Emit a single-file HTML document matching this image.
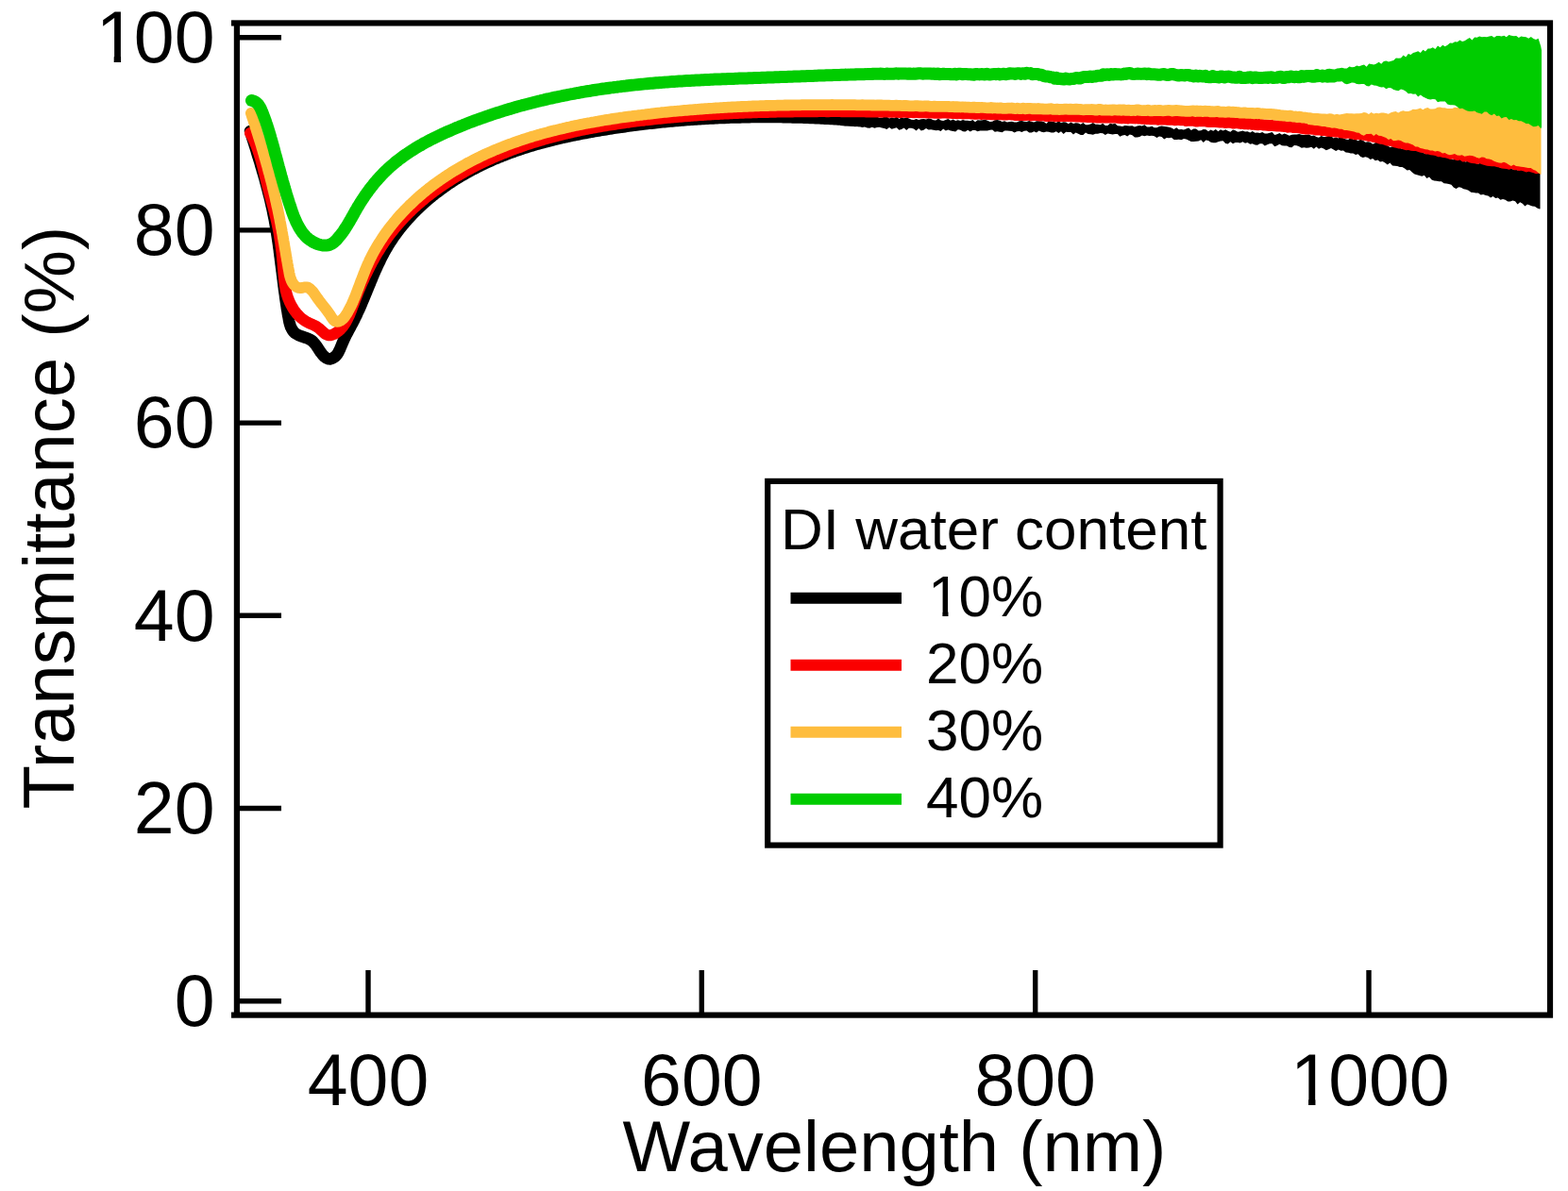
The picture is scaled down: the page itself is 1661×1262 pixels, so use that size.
<!DOCTYPE html>
<html><head><meta charset="utf-8"><title>Transmittance vs Wavelength</title>
<style>
html,body{margin:0;padding:0;background:#fff;}
body{width:1661px;height:1262px;overflow:hidden;}
svg{display:block;}
text{font-family:'Liberation Sans', Arial, Helvetica, sans-serif;fill:#000;}
</style></head>
<body>
<svg width="1661" height="1262" viewBox="0 0 1661 1262">
<rect x="0" y="0" width="1661" height="1262" fill="#fff"/>
<g id="ticks" stroke="#000" stroke-width="5.4" stroke-linecap="butt">
<line x1="251" y1="1060.7" x2="298" y2="1060.7"/>
<line x1="251" y1="856.5" x2="298" y2="856.5"/>
<line x1="251" y1="652.3" x2="298" y2="652.3"/>
<line x1="251" y1="448.1" x2="298" y2="448.1"/>
<line x1="251" y1="243.9" x2="298" y2="243.9"/>
<line x1="251" y1="39.7" x2="298" y2="39.7"/>
<line x1="390.0" y1="1075" x2="390.0" y2="1028"/>
<line x1="743.3" y1="1075" x2="743.3" y2="1028"/>
<line x1="1096.7" y1="1075" x2="1096.7" y2="1028"/>
<line x1="1450.0" y1="1075" x2="1450.0" y2="1028"/>
</g>
<g id="curves">
<path d="M265.0 138.9 L265.6 140.8 L266.2 142.7 L266.8 144.6 L267.4 146.5 L268.0 148.4 L268.6 150.2 L269.2 152.1 L269.8 154.0 L270.4 155.9 L271.0 157.8 L271.6 159.8 L272.1 161.7 L272.7 163.6 L273.3 165.5 L273.9 167.4 L274.5 169.3 L275.1 171.2 L275.7 173.2 L276.2 175.1 L276.8 177.0 L277.4 178.9 L277.9 180.9 L278.5 182.8 L279.1 184.7 L279.6 186.7 L280.2 188.6 L280.7 190.6 L281.2 192.5 L281.8 194.4 L282.3 196.4 L282.8 198.3 L283.3 200.3 L283.8 202.2 L284.3 204.2 L284.8 206.1 L285.3 208.1 L285.8 210.0 L286.3 212.0 L286.7 213.9 L287.2 215.9 L287.6 217.9 L288.1 219.8 L288.5 221.8 L288.9 223.7 L289.3 225.7 L289.7 227.7 L290.1 229.6 L290.5 231.6 L290.9 233.6 L291.2 235.5 L291.6 237.5 L291.9 239.5 L292.3 241.4 L292.6 243.4 L292.9 245.4 L293.2 247.3 L293.5 249.3 L293.8 251.3 L294.1 253.2 L294.4 255.2 L294.7 257.2 L295.0 259.2 L295.2 261.1 L295.5 263.1 L295.8 265.1 L296.0 267.1 L296.3 269.1 L296.5 271.0 L296.8 273.0 L297.0 275.0 L297.3 277.0 L297.5 279.0 L297.8 281.0 L298.0 283.0 L298.3 284.9 L298.5 286.9 L298.8 288.9 L299.0 290.9 L299.3 292.9 L299.5 294.9 L299.8 296.9 L300.0 298.9 L300.3 300.9 L300.5 302.9 L300.8 304.9 L301.0 306.9 L301.3 308.9 L301.6 310.9 L301.9 312.9 L302.1 314.9 L302.4 316.9 L302.7 318.9 L303.0 320.9 L303.3 322.9 L303.6 324.9 L303.9 327.0 L304.3 329.0 L304.6 331.0 L304.9 333.0 L305.3 335.0 L305.7 337.0 L306.0 339.1 L306.4 341.1 L306.9 343.0 L307.5 344.9 L308.1 346.7 L309.0 348.4 L309.9 350.0 L311.1 351.5 L312.4 352.8 L314.0 353.9 L315.8 354.9 L317.7 355.7 L319.6 356.5 L321.6 357.1 L323.5 357.8 L325.4 358.4 L327.2 359.2 L328.9 360.1 L330.5 361.1 L331.9 362.4 L333.3 363.9 L334.5 365.5 L335.7 367.2 L336.9 369.0 L338.0 370.8 L339.2 372.6 L340.5 374.3 L341.8 376.0 L343.2 377.5 L344.7 378.7 L346.3 379.7 L348.0 380.3 L349.7 380.4 L351.4 380.0 L353.0 379.2 L354.6 378.1 L356.0 376.8 L357.2 375.3 L358.3 373.6 L359.2 371.8 L360.1 370.0 L360.9 368.0 L361.7 366.1 L362.5 364.1 L363.3 362.2 L364.2 360.3 L365.0 358.5 L365.9 356.6 L366.8 354.8 L367.8 353.0 L368.7 351.3 L369.6 349.5 L370.6 347.7 L371.5 346.0 L372.4 344.2 L373.4 342.5 L374.3 340.7 L375.2 339.0 L376.0 337.2 L376.9 335.4 L377.8 333.6 L378.6 331.8 L379.4 330.0 L380.3 328.2 L381.1 326.4 L381.9 324.5 L382.7 322.7 L383.4 320.9 L384.2 319.0 L385.0 317.2 L385.8 315.3 L386.5 313.5 L387.3 311.6 L388.1 309.8 L388.8 307.9 L389.6 306.0 L390.3 304.2 L391.1 302.3 L391.9 300.5 L392.6 298.6 L393.4 296.7 L394.2 294.9 L394.9 293.0 L395.7 291.2 L396.5 289.3 L397.3 287.5 L398.1 285.7 L399.0 283.8 L399.8 282.0 L400.6 280.2 L401.5 278.4 L402.4 276.6 L403.2 274.8 L404.1 273.0 L405.0 271.2 L406.0 269.4 L406.9 267.7 L407.9 265.9 L408.9 264.2 L409.9 262.5 L410.9 260.7 L411.9 259.0 L413.0 257.3 L414.1 255.7 L415.2 254.0 L416.3 252.3 L417.4 250.7 L418.6 249.1 L419.8 247.4 L421.0 245.8 L422.2 244.2 L423.4 242.6 L424.6 241.1 L425.9 239.5 L427.2 238.0 L428.5 236.4 L429.8 234.9 L431.1 233.4 L432.4 231.9 L433.8 230.4 L435.2 228.9 L436.5 227.5 L437.9 226.0 L439.3 224.6 L440.8 223.2 L442.2 221.8 L443.7 220.4 L445.1 219.0 L446.6 217.6 L448.1 216.3 L449.6 214.9 L451.1 213.6 L452.6 212.3 L454.2 210.9 L455.7 209.7 L457.3 208.4 L458.8 207.1 L460.4 205.8 L462.0 204.6 L463.6 203.4 L465.2 202.2 L466.8 201.0 L468.4 199.8 L470.1 198.6 L471.7 197.4 L473.4 196.3 L475.0 195.1 L476.7 194.0 L478.4 192.9 L480.0 191.8 L481.7 190.7 L483.4 189.7 L485.1 188.6 L486.8 187.6 L488.6 186.5 L490.3 185.5 L492.0 184.5 L493.7 183.5 L495.5 182.6 L497.2 181.6 L499.0 180.7 L500.7 179.7 L502.5 178.8 L504.3 177.9 L506.0 177.0 L507.8 176.1 L509.6 175.2 L511.4 174.3 L513.2 173.5 L515.0 172.6 L516.8 171.8 L518.6 171.0 L520.4 170.2 L522.2 169.4 L524.1 168.6 L525.9 167.8 L527.7 167.1 L529.6 166.3 L531.4 165.6 L533.3 164.8 L535.1 164.1 L537.0 163.4 L538.9 162.7 L540.7 162.0 L542.6 161.3 L544.5 160.7 L546.4 160.0 L548.2 159.3 L550.1 158.7 L552.0 158.1 L553.9 157.4 L555.8 156.8 L557.7 156.2 L559.6 155.6 L561.5 155.0 L563.5 154.5 L565.4 153.9 L567.3 153.3 L569.2 152.8 L571.1 152.2 L573.1 151.7 L575.0 151.2 L576.9 150.6 L578.9 150.1 L580.8 149.6 L582.8 149.1 L584.7 148.6 L586.7 148.1 L588.6 147.7 L590.6 147.2 L592.5 146.7 L594.5 146.3 L596.5 145.8 L598.4 145.4 L600.4 145.0 L602.3 144.5 L604.3 144.1 L606.3 143.7 L608.3 143.3 L610.2 142.9 L612.2 142.5 L614.2 142.1 L616.2 141.7 L618.1 141.3 L620.1 141.0 L622.1 140.6 L624.1 140.2 L626.1 139.9 L628.1 139.5 L630.0 139.2 L632.0 138.8 L634.0 138.5 L636.0 138.1 L638.0 137.8 L640.0 137.5 L642.0 137.2 L644.0 136.9 L645.9 136.5 L647.9 136.2 L649.9 135.9 L651.9 135.6 L653.9 135.3 L655.9 135.0 L657.9 134.8 L659.9 134.5 L661.9 134.2 L663.9 133.9 L665.9 133.6 L667.9 133.4 L669.8 133.1 L671.8 132.9 L673.8 132.6 L675.8 132.3 L677.8 132.1 L679.8 131.8 L681.8 131.6 L683.8 131.4 L685.8 131.1 L687.8 130.9 L689.8 130.7 L691.8 130.5 L693.8 130.2 L695.8 130.0 L697.8 129.8 L699.8 129.6 L701.8 129.4 L703.7 129.2 L705.7 129.0 L707.7 128.8 L709.7 128.6 L711.7 128.5 L713.7 128.3 L715.7 128.1 L717.7 127.9 L719.7 127.8 L721.7 127.6 L723.7 127.4 L725.7 127.3 L727.7 127.1 L729.7 127.0 L731.7 126.8 L733.7 126.7 L735.7 126.6 L737.7 126.4 L739.7 126.3 L741.7 126.2 L743.7 126.1 L745.7 125.9 L747.7 125.8 L749.7 125.7 L751.7 125.6 L753.7 125.5 L755.7 125.4 L757.7 125.3 L759.7 125.2 L761.7 125.1 L763.7 125.0 L765.7 124.9 L767.7 124.9 L769.7 124.8 L771.7 124.7 L773.7 124.6 L775.7 124.6 L777.7 124.5 L779.7 124.5 L781.7 124.4 L783.7 124.4 L785.7 124.3 L787.7 124.3 L789.7 124.2 L791.7 124.2 L793.7 124.2 L795.7 124.1 L797.7 124.1 L799.7 124.1 L801.7 124.1 L803.7 124.0 L805.7 124.0 L807.7 124.0 L809.7 124.0 L811.8 124.0 L813.8 124.0 L815.8 124.0 L817.8 124.0 L819.8 124.0 L821.8 124.1 L823.8 124.1 L825.8 124.1 L827.8 124.1 L829.8 124.2 L831.8 124.2 L833.8 124.2 L835.8 124.3 L837.8 124.3 L839.8 124.4 L841.8 124.4 L843.8 124.5 L845.8 124.5 L847.8 124.6 L849.8 124.6 L851.8 124.7 L853.9 124.8 L855.9 124.8 L857.9 124.9 L859.9 125.0 L861.9 125.1 L863.9 125.2 L865.9 125.3 L867.9 125.3 L869.9 125.4 L871.9 125.6 L873.9 125.7 L875.9 125.8 L877.9 125.8 L879.9 126.0 L881.9 126.1 L883.9 126.2 L886.0 126.3 L888.0 126.4 L890.0 126.6 L892.0 126.7 L894.0 126.8 L896.0 127.0 L898.0 127.1 L900.0 127.3 L902.0 127.5 L904.0 127.5 L906.0 127.7 L908.0 127.7 L910.0 128.0" fill="none" stroke="#000000" stroke-width="12.5" stroke-linejoin="round" stroke-linecap="round"/>
<path d="M890.0 122.0 L892.6 122.1 L895.2 122.2 L897.8 122.3 L900.4 122.4 L903.0 122.5 L905.6 122.5 L908.2 122.3 L910.8 122.5 L913.4 122.5 L916.0 122.8 L918.6 123.7 L921.2 122.8 L923.8 123.1 L926.4 123.2 L929.0 123.7 L931.6 124.7 L934.2 124.7 L936.8 123.8 L939.4 123.6 L942.0 125.4 L944.6 124.5 L947.2 125.2 L949.8 123.6 L952.4 126.1 L955.0 124.6 L957.6 125.3 L960.2 124.6 L962.8 125.4 L965.4 126.8 L968.0 127.0 L970.6 126.0 L973.2 127.0 L975.8 126.2 L978.4 126.0 L981.0 126.6 L983.6 125.6 L986.2 126.1 L988.8 127.3 L991.4 127.6 L994.0 125.5 L996.6 127.6 L999.2 128.0 L1001.8 127.0 L1004.4 125.9 L1007.0 127.8 L1009.6 126.6 L1012.2 127.9 L1014.8 127.2 L1017.4 128.0 L1020.0 127.0 L1022.6 127.7 L1025.2 127.8 L1027.8 128.2 L1030.4 127.0 L1033.0 129.3 L1035.6 127.3 L1038.2 127.4 L1040.8 127.3 L1043.4 126.7 L1046.0 127.8 L1048.6 128.9 L1051.2 128.8 L1053.8 127.3 L1056.4 127.1 L1059.0 127.7 L1061.6 129.1 L1064.2 128.3 L1066.8 129.6 L1069.4 128.9 L1072.0 128.8 L1074.6 129.4 L1077.2 129.4 L1079.8 128.2 L1082.4 128.1 L1085.0 128.7 L1087.6 128.9 L1090.2 128.0 L1092.8 129.0 L1095.4 129.6 L1098.0 128.2 L1100.6 128.3 L1103.2 128.5 L1105.8 128.9 L1108.4 131.0 L1111.0 128.3 L1113.6 128.8 L1116.2 128.9 L1118.8 129.9 L1121.4 128.6 L1124.0 130.0 L1126.6 129.2 L1129.2 129.6 L1131.8 131.3 L1134.4 129.5 L1137.0 130.9 L1139.6 130.3 L1142.2 130.5 L1144.8 131.7 L1147.4 129.9 L1150.0 132.2 L1152.6 132.2 L1155.2 131.6 L1157.8 129.9 L1160.4 131.8 L1163.0 131.7 L1165.6 132.3 L1168.2 130.7 L1170.8 133.0 L1173.4 132.9 L1176.0 130.7 L1178.6 131.5 L1181.2 130.7 L1183.8 133.3 L1186.4 133.6 L1189.0 134.0 L1191.6 133.0 L1194.2 133.3 L1196.8 133.4 L1199.4 133.2 L1202.0 134.5 L1204.6 133.6 L1207.2 132.9 L1209.8 133.5 L1212.4 132.2 L1215.0 134.4 L1217.6 134.5 L1220.2 133.8 L1222.8 135.3 L1225.4 135.2 L1228.0 134.1 L1230.6 133.5 L1233.2 133.9 L1235.8 134.2 L1238.4 134.8 L1241.0 135.4 L1243.6 137.0 L1246.2 135.3 L1248.8 137.3 L1251.4 136.9 L1254.0 137.6 L1256.6 136.4 L1259.2 135.4 L1261.8 138.0 L1264.4 136.5 L1267.0 136.4 L1269.6 138.6 L1272.2 138.3 L1274.8 137.0 L1277.4 137.2 L1280.0 139.3 L1282.6 137.4 L1285.2 138.8 L1287.8 137.1 L1290.4 139.3 L1293.0 137.2 L1295.6 138.5 L1298.2 137.2 L1300.8 138.8 L1303.4 139.7 L1306.0 137.5 L1308.6 138.2 L1311.2 139.7 L1313.8 139.3 L1316.4 138.5 L1319.0 139.6 L1321.6 139.2 L1324.2 140.6 L1326.8 139.1 L1329.4 140.7 L1332.0 140.5 L1334.6 141.0 L1337.2 140.1 L1339.8 141.4 L1342.4 141.5 L1345.0 140.8 L1347.6 139.9 L1350.2 142.9 L1352.8 142.3 L1355.4 141.0 L1358.0 142.8 L1360.6 141.6 L1363.2 142.4 L1365.8 143.8 L1368.4 142.7 L1371.0 142.4 L1373.6 142.6 L1376.2 142.1 L1378.8 142.7 L1381.4 143.0 L1384.0 142.8 L1386.6 142.6 L1389.2 144.0 L1391.8 143.4 L1394.4 145.1 L1397.0 145.8 L1399.6 144.0 L1402.2 145.0 L1404.8 145.0 L1407.4 143.8 L1410.0 144.1 L1412.6 146.5 L1415.2 145.5 L1417.8 146.6 L1420.4 144.5 L1423.0 146.4 L1425.6 147.6 L1428.2 147.9 L1430.8 145.7 L1433.4 147.7 L1436.0 147.7 L1438.6 149.3 L1441.2 147.7 L1443.8 148.7 L1446.4 150.8 L1449.0 150.3 L1451.6 150.7 L1454.2 152.7 L1456.8 151.2 L1459.4 150.8 L1462.0 152.3 L1464.6 152.1 L1467.2 152.3 L1469.8 154.3 L1472.4 155.9 L1475.0 155.2 L1477.6 155.9 L1480.2 155.5 L1482.8 156.7 L1485.4 157.7 L1488.0 157.7 L1490.6 158.9 L1493.2 158.6 L1495.8 158.1 L1498.4 159.7 L1501.0 159.9 L1503.6 159.4 L1506.2 161.3 L1508.8 162.4 L1511.4 160.8 L1514.0 162.6 L1516.6 163.6 L1519.2 163.2 L1521.8 163.4 L1524.4 164.2 L1527.0 165.3 L1529.6 166.3 L1532.2 166.5 L1534.8 165.7 L1537.4 168.4 L1540.0 169.2 L1542.6 167.2 L1545.2 168.1 L1547.8 168.4 L1550.4 170.8 L1553.0 171.5 L1555.6 169.3 L1558.2 170.7 L1560.8 170.7 L1563.4 172.0 L1566.0 173.8 L1568.6 171.7 L1571.2 172.5 L1573.8 173.9 L1576.4 174.4 L1579.0 175.6 L1581.6 175.1 L1584.2 174.6 L1586.8 175.7 L1589.4 178.0 L1592.0 177.7 L1594.6 176.2 L1597.2 178.7 L1599.8 177.7 L1602.4 179.5 L1605.0 177.6 L1607.6 180.6 L1610.2 178.9 L1612.8 180.2 L1615.4 181.3 L1618.0 181.2 L1620.6 180.6 L1623.2 181.0 L1625.8 181.8 L1628.4 181.4 L1631.0 182.1 L1631.5 183.0 L1631.5 221.3 L1631.0 221.5 L1628.4 220.5 L1625.8 218.7 L1623.2 218.4 L1620.6 217.5 L1618.0 216.4 L1615.4 218.5 L1612.8 215.8 L1610.2 214.3 L1607.6 216.5 L1605.0 213.3 L1602.4 212.4 L1599.8 213.5 L1597.2 213.5 L1594.6 211.8 L1592.0 210.9 L1589.4 211.8 L1586.8 209.5 L1584.2 210.1 L1581.6 208.1 L1579.0 209.5 L1576.4 207.6 L1573.8 206.9 L1571.2 205.9 L1568.6 206.5 L1566.0 204.5 L1563.4 204.6 L1560.8 204.0 L1558.2 203.7 L1555.6 201.7 L1553.0 200.7 L1550.4 200.3 L1547.8 198.8 L1545.2 198.3 L1542.6 199.9 L1540.0 198.7 L1537.4 195.8 L1534.8 194.9 L1532.2 194.4 L1529.6 194.2 L1527.0 192.3 L1524.4 192.3 L1521.8 191.7 L1519.2 191.5 L1516.6 190.6 L1514.0 187.6 L1511.4 189.0 L1508.8 185.7 L1506.2 186.7 L1503.6 186.0 L1501.0 185.3 L1498.4 184.4 L1495.8 182.6 L1493.2 179.9 L1490.6 180.6 L1488.0 178.6 L1485.4 177.1 L1482.8 177.0 L1480.2 176.1 L1477.6 175.7 L1475.0 175.6 L1472.4 172.5 L1469.8 174.4 L1467.2 172.6 L1464.6 171.1 L1462.0 171.5 L1459.4 169.5 L1456.8 170.3 L1454.2 168.0 L1451.6 168.9 L1449.0 167.0 L1446.4 166.3 L1443.8 167.0 L1441.2 166.1 L1438.6 163.2 L1436.0 164.1 L1433.4 162.5 L1430.8 162.6 L1428.2 161.7 L1425.6 161.6 L1423.0 159.5 L1420.4 159.7 L1417.8 158.6 L1415.2 159.9 L1412.6 158.6 L1410.0 157.0 L1407.4 158.2 L1404.8 159.3 L1402.2 157.6 L1399.6 156.5 L1397.0 157.8 L1394.4 155.6 L1391.8 157.8 L1389.2 155.7 L1386.6 156.6 L1384.0 156.8 L1381.4 156.3 L1378.8 156.7 L1376.2 155.2 L1373.6 154.3 L1371.0 154.0 L1368.4 156.2 L1365.8 156.1 L1363.2 154.4 L1360.6 154.4 L1358.0 154.3 L1355.4 152.8 L1352.8 154.2 L1350.2 155.2 L1347.6 152.2 L1345.0 152.2 L1342.4 153.3 L1339.8 154.4 L1337.2 152.3 L1334.6 152.3 L1332.0 153.8 L1329.4 153.6 L1326.8 152.3 L1324.2 152.8 L1321.6 151.1 L1319.0 151.7 L1316.4 150.3 L1313.8 151.6 L1311.2 150.9 L1308.6 151.1 L1306.0 152.3 L1303.4 150.3 L1300.8 152.4 L1298.2 151.9 L1295.6 149.3 L1293.0 149.6 L1290.4 150.3 L1287.8 151.2 L1285.2 151.2 L1282.6 150.7 L1280.0 148.9 L1277.4 148.6 L1274.8 150.9 L1272.2 148.2 L1269.6 149.5 L1267.0 149.7 L1264.4 150.0 L1261.8 150.1 L1259.2 148.8 L1256.6 147.6 L1254.0 146.9 L1251.4 148.2 L1248.8 147.8 L1246.2 147.9 L1243.6 148.1 L1241.0 145.7 L1238.4 146.2 L1235.8 146.0 L1233.2 147.5 L1230.6 145.0 L1228.0 144.6 L1225.4 146.0 L1222.8 144.2 L1220.2 143.7 L1217.6 144.1 L1215.0 143.4 L1212.4 144.2 L1209.8 143.4 L1207.2 144.9 L1204.6 145.6 L1202.0 145.6 L1199.4 143.3 L1196.8 142.5 L1194.2 144.5 L1191.6 142.9 L1189.0 143.4 L1186.4 144.8 L1183.8 142.0 L1181.2 141.9 L1178.6 142.6 L1176.0 142.1 L1173.4 141.6 L1170.8 142.9 L1168.2 141.2 L1165.6 141.0 L1163.0 141.8 L1160.4 141.7 L1157.8 142.7 L1155.2 142.3 L1152.6 141.9 L1150.0 140.4 L1147.4 143.0 L1144.8 143.0 L1142.2 141.7 L1139.6 140.6 L1137.0 142.6 L1134.4 140.1 L1131.8 140.1 L1129.2 139.8 L1126.6 142.0 L1124.0 139.2 L1121.4 141.0 L1118.8 139.2 L1116.2 140.5 L1113.6 140.5 L1111.0 139.7 L1108.4 139.4 L1105.8 140.3 L1103.2 139.7 L1100.6 138.6 L1098.0 140.4 L1095.4 139.3 L1092.8 140.6 L1090.2 140.4 L1087.6 138.6 L1085.0 138.8 L1082.4 140.1 L1079.8 139.1 L1077.2 139.2 L1074.6 140.4 L1072.0 138.9 L1069.4 138.8 L1066.8 138.6 L1064.2 138.5 L1061.6 140.2 L1059.0 139.7 L1056.4 139.3 L1053.8 139.8 L1051.2 137.6 L1048.6 137.8 L1046.0 138.6 L1043.4 138.4 L1040.8 138.5 L1038.2 138.5 L1035.6 139.2 L1033.0 138.0 L1030.4 138.0 L1027.8 139.6 L1025.2 137.8 L1022.6 139.4 L1020.0 139.3 L1017.4 137.8 L1014.8 137.2 L1012.2 139.4 L1009.6 139.0 L1007.0 138.6 L1004.4 137.5 L1001.8 138.6 L999.2 136.6 L996.6 139.1 L994.0 138.1 L991.4 138.3 L988.8 137.7 L986.2 137.3 L983.6 137.6 L981.0 136.1 L978.4 137.7 L975.8 138.5 L973.2 135.9 L970.6 138.5 L968.0 136.6 L965.4 135.8 L962.8 135.7 L960.2 138.0 L957.6 135.5 L955.0 137.1 L952.4 137.8 L949.8 135.2 L947.2 136.1 L944.6 136.7 L942.0 135.0 L939.4 136.9 L936.8 136.0 L934.2 135.5 L931.6 134.8 L929.0 134.9 L926.4 135.7 L923.8 134.8 L921.2 135.7 L918.6 135.5 L916.0 134.6 L913.4 134.9 L910.8 134.3 L908.2 134.0 L905.6 134.2 L903.0 133.8 L900.4 133.5 L897.8 133.4 L895.2 133.4 L892.6 133.2 L890.0 133.0 Z" fill="#000000"/>
<path d="M265.0 141.0 L266.0 142.8 L267.0 144.5 L267.9 146.3 L268.7 148.1 L269.6 149.9 L270.3 151.8 L271.1 153.6 L271.8 155.5 L272.5 157.3 L273.2 159.2 L273.8 161.1 L274.5 163.0 L275.0 164.9 L275.6 166.8 L276.2 168.7 L276.7 170.6 L277.2 172.6 L277.8 174.5 L278.3 176.5 L278.8 178.4 L279.2 180.3 L279.7 182.3 L280.2 184.2 L280.7 186.2 L281.2 188.2 L281.6 190.1 L282.1 192.1 L282.6 194.0 L283.1 196.0 L283.6 197.9 L284.1 199.8 L284.6 201.8 L285.1 203.7 L285.6 205.7 L286.1 207.6 L286.7 209.5 L287.2 211.5 L287.7 213.4 L288.2 215.3 L288.7 217.3 L289.3 219.2 L289.8 221.2 L290.3 223.1 L290.8 225.0 L291.2 227.0 L291.7 228.9 L292.2 230.9 L292.6 232.8 L293.1 234.8 L293.5 236.7 L293.9 238.7 L294.3 240.6 L294.7 242.6 L295.1 244.6 L295.5 246.5 L295.8 248.5 L296.1 250.5 L296.4 252.5 L296.7 254.5 L297.0 256.4 L297.3 258.4 L297.5 260.4 L297.8 262.4 L298.0 264.4 L298.3 266.4 L298.5 268.4 L298.7 270.4 L298.9 272.4 L299.1 274.4 L299.3 276.4 L299.5 278.4 L299.6 280.4 L299.8 282.4 L300.0 284.4 L300.2 286.4 L300.3 288.4 L300.5 290.4 L300.7 292.4 L300.9 294.4 L301.1 296.4 L301.3 298.4 L301.6 300.4 L301.8 302.3 L302.2 304.3 L302.5 306.3 L302.9 308.2 L303.4 310.2 L303.9 312.1 L304.5 314.0 L305.1 315.9 L305.9 317.8 L306.6 319.6 L307.5 321.5 L308.4 323.3 L309.4 325.0 L310.4 326.8 L311.5 328.5 L312.7 330.1 L313.9 331.7 L315.2 333.2 L316.5 334.6 L317.9 336.0 L319.4 337.3 L321.0 338.5 L322.6 339.6 L324.2 340.6 L325.9 341.6 L327.7 342.4 L329.5 343.2 L331.3 344.0 L333.1 344.9 L335.0 345.9 L336.7 347.0 L338.5 348.3 L340.1 349.8 L341.8 351.4 L343.4 352.9 L345.0 354.1 L346.7 354.9 L348.5 355.3 L350.3 355.2 L352.1 354.7 L353.9 354.0 L355.6 353.0 L357.2 351.9 L358.7 350.7 L360.2 349.4 L361.5 348.1 L362.8 346.6 L363.9 345.1 L365.0 343.5 L366.1 341.9 L367.0 340.2 L368.0 338.4 L368.8 336.6 L369.7 334.8 L370.5 333.0 L371.2 331.1 L372.0 329.2 L372.7 327.2 L373.4 325.3 L374.1 323.4 L374.9 321.4 L375.6 319.5 L376.3 317.6 L377.1 315.6 L377.8 313.7 L378.6 311.8 L379.3 309.9 L380.1 308.0 L380.9 306.1 L381.7 304.2 L382.5 302.4 L383.3 300.5 L384.1 298.6 L385.0 296.8 L385.8 294.9 L386.6 293.1 L387.5 291.3 L388.4 289.5 L389.3 287.6 L390.2 285.8 L391.1 284.0 L392.0 282.2 L392.9 280.5 L393.8 278.7 L394.8 276.9 L395.8 275.2 L396.7 273.4 L397.7 271.7 L398.7 270.0 L399.7 268.3 L400.8 266.6 L401.8 264.9 L402.9 263.2 L403.9 261.5 L405.0 259.9 L406.1 258.2 L407.2 256.6 L408.3 254.9 L409.5 253.3 L410.6 251.7 L411.8 250.1 L413.0 248.5 L414.2 247.0 L415.4 245.4 L416.6 243.9 L417.9 242.3 L419.1 240.8 L420.4 239.3 L421.7 237.8 L423.0 236.3 L424.3 234.8 L425.6 233.4 L427.0 231.9 L428.3 230.5 L429.7 229.1 L431.1 227.6 L432.5 226.2 L433.9 224.8 L435.3 223.5 L436.7 222.1 L438.2 220.7 L439.6 219.4 L441.1 218.1 L442.6 216.7 L444.1 215.4 L445.6 214.1 L447.1 212.8 L448.7 211.6 L450.2 210.3 L451.7 209.0 L453.3 207.8 L454.9 206.6 L456.5 205.3 L458.1 204.1 L459.7 202.9 L461.3 201.8 L462.9 200.6 L464.5 199.4 L466.2 198.3 L467.8 197.1 L469.5 196.0 L471.1 194.9 L472.8 193.8 L474.5 192.7 L476.2 191.6 L477.9 190.5 L479.6 189.4 L481.3 188.4 L483.0 187.3 L484.8 186.3 L486.5 185.3 L488.2 184.3 L490.0 183.3 L491.7 182.3 L493.5 181.3 L495.3 180.3 L497.0 179.4 L498.8 178.4 L500.6 177.5 L502.4 176.6 L504.2 175.6 L506.0 174.7 L507.8 173.8 L509.6 173.0 L511.4 172.1 L513.2 171.2 L515.1 170.4 L516.9 169.5 L518.7 168.7 L520.6 167.9 L522.4 167.0 L524.2 166.2 L526.1 165.4 L527.9 164.7 L529.8 163.9 L531.6 163.1 L533.5 162.4 L535.4 161.6 L537.2 160.9 L539.1 160.2 L541.0 159.4 L542.8 158.7 L544.7 158.0 L546.6 157.4 L548.5 156.7 L550.4 156.0 L552.2 155.3 L554.1 154.7 L556.0 154.0 L557.9 153.4 L559.8 152.8 L561.7 152.2 L563.6 151.5 L565.5 150.9 L567.4 150.4 L569.4 149.8 L571.3 149.2 L573.2 148.6 L575.1 148.1 L577.0 147.5 L579.0 147.0 L580.9 146.4 L582.8 145.9 L584.7 145.4 L586.7 144.9 L588.6 144.4 L590.5 143.9 L592.5 143.4 L594.4 142.9 L596.4 142.4 L598.3 141.9 L600.3 141.5 L602.2 141.0 L604.2 140.6 L606.1 140.1 L608.1 139.7 L610.0 139.3 L612.0 138.8 L614.0 138.4 L615.9 138.0 L617.9 137.6 L619.8 137.2 L621.8 136.8 L623.8 136.4 L625.8 136.1 L627.7 135.7 L629.7 135.3 L631.7 135.0 L633.6 134.6 L635.6 134.3 L637.6 133.9 L639.6 133.6 L641.6 133.3 L643.5 132.9 L645.5 132.6 L647.5 132.3 L649.5 132.0 L651.5 131.7 L653.5 131.4 L655.5 131.1 L657.4 130.8 L659.4 130.5 L661.4 130.2 L663.4 129.9 L665.4 129.7 L667.4 129.4 L669.4 129.1 L671.4 128.9 L673.4 128.6 L675.4 128.4 L677.4 128.1 L679.4 127.9 L681.4 127.7 L683.3 127.4 L685.3 127.2 L687.3 127.0 L689.3 126.8 L691.3 126.5 L693.3 126.3 L695.3 126.1 L697.3 125.9 L699.3 125.7 L701.3 125.5 L703.3 125.3 L705.3 125.1 L707.3 124.9 L709.3 124.7 L711.3 124.5 L713.3 124.4 L715.3 124.2 L717.3 124.0 L719.3 123.8 L721.3 123.7 L723.3 123.5 L725.3 123.3 L727.3 123.2 L729.3 123.0 L731.3 122.9 L733.3 122.7 L735.3 122.6 L737.3 122.4 L739.3 122.3 L741.3 122.1 L743.3 122.0 L745.3 121.9 L747.3 121.7 L749.3 121.6 L751.3 121.5 L753.3 121.4 L755.3 121.2 L757.3 121.1 L759.3 121.0 L761.3 120.9 L763.3 120.8 L765.3 120.7 L767.3 120.6 L769.4 120.5 L771.4 120.4 L773.4 120.3 L775.4 120.2 L777.4 120.1 L779.4 120.0 L781.4 119.9 L783.4 119.8 L785.4 119.8 L787.4 119.7 L789.4 119.6 L791.4 119.5 L793.4 119.5 L795.4 119.4 L797.4 119.3 L799.4 119.3 L801.4 119.2 L803.4 119.1 L805.4 119.1 L807.4 119.0 L809.4 119.0 L811.4 118.9 L813.4 118.9 L815.4 118.8 L817.4 118.8 L819.4 118.7 L821.4 118.7 L823.4 118.6 L825.5 118.6 L827.5 118.5 L829.5 118.5 L831.5 118.5 L833.5 118.4 L835.5 118.4 L837.5 118.4 L839.5 118.4 L841.5 118.3 L843.5 118.3 L845.5 118.3 L847.5 118.3 L849.5 118.2 L851.5 118.2 L853.5 118.2 L855.5 118.2 L857.5 118.2 L859.5 118.2 L861.5 118.2 L863.5 118.2 L865.5 118.2 L867.6 118.1 L869.6 118.1 L871.6 118.1 L873.6 118.1 L875.6 118.2 L877.6 118.2 L879.6 118.1 L881.6 118.1 L883.6 118.1 L885.6 118.1 L887.6 118.1 L889.6 118.1 L891.6 118.2 L893.6 118.2 L895.6 118.2 L897.6 118.2 L899.6 118.2 L901.6 118.2 L903.6 118.2 L905.7 118.2 L907.7 118.3 L909.7 118.3 L911.7 118.2 L913.7 118.3 L915.7 118.3 L917.7 118.4 L919.7 118.4 L921.7 118.5 L923.7 118.4 L925.7 118.4 L927.7 118.4 L929.7 118.5 L931.7 118.6 L933.7 118.7 L935.7 118.6 L937.7 118.5 L939.7 118.6 L941.7 118.7 L943.7 118.8 L945.8 118.8 L947.8 118.7 L949.8 118.7 L951.8 118.9 L953.8 119.0 L955.8 118.8 L957.8 118.8 L959.8 118.8 L961.8 118.9 L963.8 119.1 L965.8 119.1 L967.8 119.3 L969.8 119.0 L971.8 119.1 L973.8 119.3 L975.8 119.3 L977.8 119.1 L979.8 119.3 L981.8 119.4 L983.8 119.5 L985.8 119.4 L987.9 119.4 L989.9 119.7 L991.9 119.6 L993.9 119.7 L995.9 119.7 L997.9 119.5 L999.9 119.6 L1001.9 119.6 L1003.9 119.7 L1005.9 119.7 L1007.9 119.9 L1009.9 119.9 L1011.9 120.0 L1013.9 120.2 L1015.9 119.9 L1017.9 120.0 L1019.9 120.4 L1021.9 120.3 L1023.9 120.3 L1025.9 120.2 L1027.9 120.4 L1029.9 120.3 L1031.9 120.7 L1034.0 120.7 L1036.0 120.5 L1038.0 120.4 L1040.0 120.9 L1042.0 120.6 L1044.0 120.9 L1046.0 121.1 L1048.0 121.1 L1050.0 121.2 L1052.0 121.0 L1054.0 121.3 L1056.0 121.1 L1058.0 121.0 L1060.0 121.2 L1062.0 121.2 L1064.0 121.5 L1066.0 121.6 L1068.0 121.2 L1070.0 121.3 L1072.0 121.5 L1074.0 121.6 L1076.0 122.0 L1078.1 122.0 L1080.1 122.1 L1082.1 122.0 L1084.1 122.0 L1086.1 121.8 L1088.1 121.9 L1090.1 121.7 L1092.1 122.4 L1094.1 122.0 L1096.1 121.9 L1098.1 122.1 L1100.1 122.2 L1102.1 122.6 L1104.1 122.1 L1106.1 122.3 L1108.1 122.9 L1110.1 122.9 L1112.1 122.8 L1114.1 122.8 L1116.1 122.6 L1118.1 123.2 L1120.2 123.1 L1122.2 123.0 L1124.2 122.8 L1126.2 122.9 L1128.2 123.0 L1130.2 123.1 L1132.2 122.9 L1134.2 123.2 L1136.2 123.3 L1138.2 123.3 L1140.2 123.4 L1142.2 123.4 L1144.2 123.5 L1146.2 123.7 L1148.2 123.7 L1150.2 123.5 L1152.2 124.1 L1154.2 123.9 L1156.2 123.9 L1158.2 124.2 L1160.3 124.3 L1162.3 124.4 L1164.3 124.4 L1166.3 124.4 L1168.3 124.5 L1170.3 124.1 L1172.3 124.6 L1174.3 124.3 L1176.3 124.4 L1178.3 124.3 L1180.3 124.6 L1182.3 124.4 L1184.3 124.9 L1186.3 125.1 L1188.3 125.2 L1190.3 124.7 L1192.3 125.2 L1194.3 125.4 L1196.3 124.8 L1198.3 125.0 L1200.4 125.2 L1202.4 125.4 L1204.4 125.2 L1206.4 125.6 L1208.4 125.5 L1210.4 125.8 L1212.4 125.8 L1214.4 126.0 L1216.4 125.7 L1218.4 126.2 L1220.4 126.3 L1222.4 126.3 L1224.4 125.9 L1226.4 126.7 L1228.4 126.4 L1230.4 126.3 L1232.4 126.5 L1234.4 126.6 L1236.4 126.7 L1238.4 126.6 L1240.4 126.7 L1242.4 126.8 L1244.4 127.3 L1246.5 127.1 L1248.5 126.8 L1250.5 127.3 L1252.5 127.1 L1254.5 127.1 L1256.5 128.0 L1258.5 127.5 L1260.5 127.8 L1262.5 127.7 L1264.5 127.6 L1266.5 128.4 L1268.5 128.5 L1270.5 128.0 L1272.5 128.3 L1274.5 128.3 L1276.5 128.3 L1278.5 128.8 L1280.5 129.0 L1282.5 129.1 L1284.5 129.1 L1286.5 128.7 L1288.5 129.0 L1290.5 129.3 L1292.5 129.6 L1294.5 129.4 L1296.5 129.6 L1298.5 130.0 L1300.5 129.5 L1302.5 129.8 L1304.5 129.9 L1306.5 130.6 L1308.5 130.1 L1310.5 130.1 L1312.5 130.5 L1314.5 130.9 L1316.5 130.6 L1318.5 131.3 L1320.5 130.9 L1322.5 131.4 L1324.5 131.1 L1326.5 131.8 L1328.5 131.4 L1330.5 132.0 L1332.5 132.2 L1334.5 131.9 L1336.5 131.9 L1338.5 132.5 L1340.5 132.5 L1342.5 132.7 L1344.5 133.1 L1346.5 133.0 L1348.5 133.1 L1350.5 133.3 L1352.5 133.4 L1354.5 133.5 L1356.5 133.5 L1358.5 133.8 L1360.5 133.9 L1362.5 134.1 L1364.5 134.7 L1366.5 134.3 L1368.5 134.6 L1370.5 135.0 L1372.5 135.0 L1374.5 135.1 L1376.5 135.4 L1378.5 135.7 L1380.5 136.0 L1382.5 136.4 L1384.5 136.5 L1386.5 136.4 L1388.5 136.6 L1390.4 136.8 L1392.4 136.8 L1394.4 137.6 L1396.4 137.1 L1398.4 137.4 L1400.4 138.0 L1402.4 138.1 L1404.4 138.1 L1406.4 138.8 L1408.4 138.6 L1410.4 139.0 L1412.4 138.8 L1414.4 139.6 L1416.4 139.2 L1418.4 139.7 L1420.4 140.3 L1422.3 140.6 L1424.3 140.8 L1426.3 140.9 L1428.3 140.7 L1430.3 140.8 L1432.3 141.4 L1434.3 141.3 L1436.3 142.3 L1438.3 141.7 L1440.3 142.2 L1442.3 142.4 L1444.2 142.5 L1446.2 143.2 L1448.2 143.1 L1450.2 144.0 L1452.2 144.1 L1454.2 144.1 L1456.2 144.8 L1458.2 145.0 L1460.2 144.9 L1462.1 145.6 L1464.1 145.9 L1466.1 146.0 L1468.1 146.0 L1470.1 146.8 L1472.1 147.1 L1474.1 146.9 L1476.1 147.0 L1478.0 147.9 L1480.0 148.1" fill="none" stroke="#fa0000" stroke-width="12" stroke-linejoin="round" stroke-linecap="round"/>
<path d="M1440.0 135.0 L1442.6 135.7 L1445.2 136.3 L1447.8 137.0 L1450.4 137.6 L1453.0 138.1 L1455.6 138.7 L1458.2 139.5 L1460.8 140.5 L1463.4 140.7 L1466.0 141.5 L1468.6 142.5 L1471.2 142.4 L1473.8 143.3 L1476.4 144.3 L1479.0 144.1 L1481.6 145.6 L1484.2 146.0 L1486.8 145.7 L1489.4 146.8 L1492.0 147.3 L1494.6 148.1 L1497.2 148.1 L1499.8 148.7 L1502.4 149.0 L1505.0 149.7 L1507.6 150.0 L1510.2 151.7 L1512.8 152.2 L1515.4 151.9 L1518.0 153.0 L1520.6 153.2 L1523.2 153.4 L1525.8 154.1 L1528.4 155.6 L1531.0 155.1 L1533.6 156.0 L1536.2 157.1 L1538.8 156.6 L1541.4 157.9 L1544.0 157.2 L1546.6 158.7 L1549.2 159.2 L1551.8 159.7 L1554.4 160.4 L1557.0 160.4 L1559.6 161.3 L1562.2 160.6 L1564.8 161.4 L1567.4 161.4 L1570.0 161.6 L1572.6 162.6 L1575.2 163.5 L1577.8 164.1 L1580.4 163.3 L1583.0 165.2 L1585.6 164.5 L1588.2 165.0 L1590.8 166.3 L1593.4 166.8 L1596.0 167.0 L1598.6 166.8 L1601.2 167.4 L1603.8 168.4 L1606.4 168.1 L1609.0 169.2 L1611.6 169.6 L1614.2 169.5 L1616.8 170.6 L1619.4 170.2 L1622.0 171.2 L1624.6 171.5 L1627.2 171.4 L1629.8 172.2 L1632.0 172.5 L1632.0 184.5 L1629.8 183.8 L1627.2 184.3 L1624.6 183.3 L1622.0 182.5 L1619.4 181.7 L1616.8 182.5 L1614.2 181.5 L1611.6 180.8 L1609.0 181.1 L1606.4 180.2 L1603.8 180.3 L1601.2 178.8 L1598.6 179.7 L1596.0 179.0 L1593.4 178.7 L1590.8 178.4 L1588.2 177.4 L1585.6 177.0 L1583.0 176.3 L1580.4 176.2 L1577.8 175.9 L1575.2 175.8 L1572.6 175.1 L1570.0 174.3 L1567.4 173.2 L1564.8 174.1 L1562.2 173.2 L1559.6 173.0 L1557.0 172.5 L1554.4 171.2 L1551.8 171.2 L1549.2 171.5 L1546.6 169.6 L1544.0 170.2 L1541.4 169.4 L1538.8 168.6 L1536.2 169.1 L1533.6 168.0 L1531.0 167.2 L1528.4 167.0 L1525.8 166.3 L1523.2 166.2 L1520.6 165.0 L1518.0 164.4 L1515.4 164.3 L1512.8 163.5 L1510.2 163.5 L1507.6 161.9 L1505.0 161.7 L1502.4 161.0 L1499.8 160.1 L1497.2 160.1 L1494.6 159.7 L1492.0 159.1 L1489.4 159.2 L1486.8 158.5 L1484.2 157.4 L1481.6 157.5 L1479.0 156.7 L1476.4 156.3 L1473.8 155.0 L1471.2 154.8 L1468.6 154.4 L1466.0 153.6 L1463.4 152.8 L1460.8 152.4 L1458.2 151.4 L1455.6 150.9 L1453.0 150.4 L1450.4 149.5 L1447.8 149.0 L1445.2 148.4 L1442.6 147.6 L1440.0 147.0 Z" fill="#fa0000"/>
<path d="M265.9 119.9 L266.5 121.8 L267.1 123.7 L267.8 125.6 L268.4 127.5 L269.0 129.4 L269.6 131.3 L270.2 133.2 L270.8 135.1 L271.4 137.0 L272.0 138.9 L272.6 140.8 L273.2 142.7 L273.8 144.6 L274.4 146.5 L275.0 148.4 L275.6 150.3 L276.2 152.3 L276.8 154.2 L277.3 156.1 L277.9 158.0 L278.5 160.0 L279.0 161.9 L279.6 163.8 L280.1 165.7 L280.7 167.7 L281.2 169.6 L281.8 171.5 L282.3 173.5 L282.9 175.4 L283.4 177.3 L283.9 179.3 L284.4 181.2 L285.0 183.2 L285.5 185.1 L286.0 187.1 L286.5 189.0 L287.0 190.9 L287.5 192.9 L288.0 194.8 L288.5 196.8 L288.9 198.7 L289.4 200.7 L289.9 202.6 L290.3 204.6 L290.8 206.5 L291.3 208.5 L291.7 210.4 L292.1 212.4 L292.6 214.3 L293.0 216.3 L293.4 218.3 L293.9 220.2 L294.3 222.2 L294.7 224.1 L295.1 226.1 L295.5 228.0 L295.9 230.0 L296.3 231.9 L296.6 233.9 L297.0 235.9 L297.4 237.8 L297.7 239.8 L298.1 241.7 L298.5 243.7 L298.8 245.7 L299.2 247.6 L299.5 249.6 L299.8 251.5 L300.2 253.5 L300.5 255.5 L300.9 257.4 L301.2 259.4 L301.5 261.4 L301.9 263.4 L302.2 265.3 L302.6 267.3 L302.9 269.3 L303.2 271.3 L303.6 273.3 L303.9 275.3 L304.3 277.3 L304.6 279.3 L305.0 281.3 L305.3 283.3 L305.7 285.3 L306.1 287.3 L306.4 289.3 L306.8 291.3 L307.3 293.3 L307.9 295.2 L308.6 297.0 L309.4 298.8 L310.4 300.4 L311.6 302.0 L313.0 303.3 L314.6 304.3 L316.4 305.0 L318.3 305.2 L320.4 304.9 L322.4 304.4 L324.4 304.3 L326.2 304.6 L327.7 305.5 L329.2 306.8 L330.6 308.2 L331.9 309.7 L333.1 311.4 L334.3 313.1 L335.5 314.8 L336.7 316.5 L337.9 318.2 L339.1 319.8 L340.3 321.4 L341.5 322.9 L342.7 324.4 L343.9 325.9 L345.1 327.4 L346.3 329.0 L347.5 330.6 L348.7 332.3 L349.9 334.1 L351.1 336.0 L352.3 337.8 L353.6 339.3 L355.1 340.4 L356.8 340.8 L358.6 340.6 L360.3 340.0 L361.8 339.1 L363.3 337.8 L364.6 336.3 L365.9 334.6 L367.1 332.8 L368.2 331.0 L369.2 329.1 L370.2 327.2 L371.2 325.4 L372.1 323.6 L372.9 321.8 L373.7 320.0 L374.5 318.2 L375.2 316.4 L376.0 314.6 L376.7 312.8 L377.4 311.0 L378.1 309.2 L378.8 307.3 L379.5 305.4 L380.2 303.6 L380.9 301.7 L381.6 299.8 L382.3 297.9 L383.1 296.0 L383.8 294.1 L384.5 292.3 L385.2 290.4 L386.0 288.5 L386.7 286.6 L387.5 284.7 L388.3 282.8 L389.1 281.0 L389.9 279.1 L390.8 277.3 L391.6 275.4 L392.5 273.6 L393.4 271.8 L394.3 270.0 L395.3 268.2 L396.2 266.5 L397.2 264.7 L398.2 263.0 L399.2 261.2 L400.3 259.5 L401.3 257.8 L402.4 256.1 L403.5 254.4 L404.6 252.7 L405.7 251.0 L406.8 249.4 L408.0 247.7 L409.1 246.1 L410.3 244.5 L411.5 242.9 L412.7 241.3 L413.9 239.7 L415.2 238.1 L416.4 236.6 L417.7 235.0 L419.0 233.5 L420.3 231.9 L421.6 230.4 L422.9 228.9 L424.3 227.4 L425.6 226.0 L427.0 224.5 L428.4 223.0 L429.8 221.6 L431.2 220.2 L432.6 218.8 L434.0 217.3 L435.5 216.0 L436.9 214.6 L438.4 213.2 L439.9 211.8 L441.3 210.5 L442.8 209.2 L444.4 207.8 L445.9 206.5 L447.4 205.2 L448.9 204.0 L450.5 202.7 L452.0 201.4 L453.6 200.2 L455.2 198.9 L456.8 197.7 L458.3 196.5 L459.9 195.3 L461.6 194.1 L463.2 192.9 L464.8 191.8 L466.4 190.6 L468.1 189.5 L469.7 188.4 L471.4 187.3 L473.0 186.1 L474.7 185.1 L476.4 184.0 L478.0 182.9 L479.7 181.9 L481.4 180.8 L483.1 179.8 L484.8 178.8 L486.5 177.8 L488.2 176.8 L489.9 175.8 L491.7 174.8 L493.4 173.9 L495.1 172.9 L496.9 172.0 L498.6 171.1 L500.4 170.1 L502.1 169.2 L503.9 168.3 L505.7 167.5 L507.5 166.6 L509.2 165.7 L511.0 164.9 L512.8 164.0 L514.6 163.2 L516.4 162.4 L518.2 161.6 L520.0 160.8 L521.9 160.0 L523.7 159.2 L525.5 158.4 L527.3 157.7 L529.2 156.9 L531.0 156.2 L532.8 155.5 L534.7 154.7 L536.5 154.0 L538.4 153.3 L540.3 152.6 L542.1 152.0 L544.0 151.3 L545.9 150.6 L547.8 150.0 L549.6 149.3 L551.5 148.7 L553.4 148.0 L555.3 147.4 L557.2 146.8 L559.1 146.2 L561.0 145.6 L562.9 145.0 L564.8 144.4 L566.7 143.9 L568.6 143.3 L570.6 142.7 L572.5 142.2 L574.4 141.6 L576.3 141.1 L578.3 140.6 L580.2 140.1 L582.2 139.5 L584.1 139.0 L586.0 138.5 L588.0 138.1 L589.9 137.6 L591.9 137.1 L593.8 136.6 L595.8 136.2 L597.8 135.7 L599.7 135.3 L601.7 134.8 L603.6 134.4 L605.6 133.9 L607.6 133.5 L609.5 133.1 L611.5 132.7 L613.5 132.3 L615.5 131.9 L617.5 131.5 L619.4 131.1 L621.4 130.7 L623.4 130.3 L625.4 130.0 L627.4 129.6 L629.4 129.3 L631.3 128.9 L633.3 128.6 L635.3 128.2 L637.3 127.9 L639.3 127.5 L641.3 127.2 L643.3 126.9 L645.3 126.6 L647.3 126.2 L649.3 125.9 L651.3 125.6 L653.3 125.3 L655.3 125.0 L657.3 124.7 L659.3 124.5 L661.3 124.2 L663.3 123.9 L665.3 123.6 L667.3 123.3 L669.3 123.1 L671.3 122.8 L673.3 122.5 L675.3 122.3 L677.3 122.0 L679.3 121.8 L681.3 121.5 L683.3 121.3 L685.3 121.0 L687.3 120.8 L689.3 120.6 L691.3 120.3 L693.3 120.1 L695.3 119.9 L697.3 119.7 L699.3 119.5 L701.3 119.2 L703.3 119.0 L705.3 118.8 L707.3 118.6 L709.3 118.4 L711.3 118.2 L713.3 118.0 L715.3 117.8 L717.3 117.7 L719.3 117.5 L721.3 117.3 L723.3 117.1 L725.3 116.9 L727.3 116.8 L729.3 116.6 L731.3 116.4 L733.3 116.3 L735.3 116.1 L737.3 116.0 L739.3 115.8 L741.3 115.6 L743.3 115.5 L745.3 115.4 L747.3 115.2 L749.3 115.1 L751.3 114.9 L753.3 114.8 L755.3 114.7 L757.3 114.5 L759.3 114.4 L761.3 114.3 L763.3 114.2 L765.3 114.1 L767.3 113.9 L769.3 113.8 L771.3 113.7 L773.3 113.6 L775.3 113.5 L777.3 113.4 L779.3 113.3 L781.4 113.2 L783.4 113.1 L785.4 113.0 L787.4 112.9 L789.4 112.8 L791.4 112.8 L793.4 112.7 L795.4 112.6 L797.4 112.5 L799.4 112.4 L801.4 112.4 L803.4 112.3 L805.4 112.2 L807.4 112.2 L809.4 112.1 L811.4 112.0 L813.4 112.0 L815.4 111.9 L817.4 111.9 L819.4 111.8 L821.4 111.8 L823.4 111.7 L825.4 111.7 L827.4 111.6 L829.4 111.6 L831.4 111.5 L833.4 111.5 L835.4 111.5 L837.4 111.4 L839.4 111.4 L841.4 111.4 L843.4 111.3 L845.4 111.3 L847.4 111.3 L849.4 111.2 L851.4 111.2 L853.4 111.2 L855.4 111.2 L857.4 111.2 L859.4 111.1 L861.4 111.1 L863.4 111.1 L865.4 111.1 L867.4 111.1 L869.4 111.1 L871.4 111.1 L873.4 111.1 L875.4 111.1 L877.4 111.1 L879.4 111.1 L881.4 111.0 L883.4 111.1 L885.4 111.1 L887.4 111.1 L889.4 111.1 L891.4 111.1 L893.5 111.1 L895.5 111.1 L897.5 111.1 L899.5 111.1 L901.5 111.1 L903.5 111.1 L905.5 111.2 L907.5 111.3 L909.5 111.3 L911.5 111.3 L913.5 111.2 L915.5 111.3 L917.5 111.4 L919.5 111.4 L921.5 111.4 L923.5 111.5 L925.5 111.5 L927.5 111.6 L929.5 111.4 L931.5 111.5 L933.5 111.5 L935.5 111.6 L937.5 111.6 L939.5 111.6 L941.5 111.6 L943.5 111.8 L945.5 111.8 L947.5 111.9 L949.5 111.7 L951.5 111.8 L953.5 111.9 L955.5 112.1 L957.5 112.0 L959.5 111.9 L961.5 112.1 L963.5 112.3 L965.5 112.3 L967.5 112.3 L969.5 112.2 L971.6 112.2 L973.6 112.5 L975.6 112.5 L977.6 112.6 L979.6 112.4 L981.6 112.4 L983.6 112.5 L985.6 112.8 L987.6 112.8 L989.6 112.7 L991.6 112.9 L993.6 112.8 L995.6 112.8 L997.6 112.9 L999.6 112.8 L1001.6 112.9 L1003.6 112.9 L1005.6 113.0 L1007.6 113.2 L1009.6 113.0 L1011.6 113.4 L1013.6 113.1 L1015.6 113.3 L1017.6 113.5 L1019.6 113.3 L1021.6 113.5 L1023.6 113.6 L1025.6 113.6 L1027.6 113.9 L1029.6 113.9 L1031.6 113.6 L1033.7 114.0 L1035.7 113.9 L1037.7 114.0 L1039.7 113.8 L1041.7 114.0 L1043.7 114.2 L1045.7 114.3 L1047.7 114.3 L1049.7 114.0 L1051.7 114.5 L1053.7 114.3 L1055.7 114.5 L1057.7 114.6 L1059.7 114.4 L1061.7 114.8 L1063.7 114.8 L1065.7 114.8 L1067.7 114.6 L1069.7 114.7 L1071.7 114.5 L1073.7 114.9 L1075.7 115.1 L1077.7 114.6 L1079.7 115.1 L1081.7 115.1 L1083.7 114.6 L1085.7 115.3 L1087.8 115.0 L1089.8 114.9 L1091.8 114.8 L1093.8 115.4 L1095.8 115.1 L1097.8 115.3 L1099.8 115.0 L1101.8 115.4 L1103.8 115.3 L1105.8 115.6 L1107.8 115.6 L1109.8 115.6 L1111.8 115.3 L1113.8 115.2 L1115.8 115.9 L1117.8 115.9 L1119.8 115.7 L1121.8 116.0 L1123.8 115.9 L1125.8 115.8 L1127.8 115.7 L1129.8 115.7 L1131.8 115.8 L1133.8 115.6 L1135.9 115.8 L1137.9 115.9 L1139.9 115.6 L1141.9 115.9 L1143.9 115.8 L1145.9 116.1 L1147.9 116.3 L1149.9 116.2 L1151.9 116.2 L1153.9 116.2 L1155.9 116.0 L1157.9 116.1 L1159.9 116.5 L1161.9 116.6 L1163.9 116.0 L1165.9 115.9 L1167.9 116.7 L1169.9 116.6 L1171.9 116.5 L1173.9 116.7 L1175.9 116.5 L1177.9 116.8 L1179.9 116.3 L1181.9 116.5 L1183.9 116.7 L1186.0 116.3 L1188.0 116.8 L1190.0 116.4 L1192.0 116.8 L1194.0 116.9 L1196.0 116.6 L1198.0 117.1 L1200.0 116.8 L1202.0 117.0 L1204.0 116.4 L1206.0 116.5 L1208.0 117.0 L1210.0 117.2 L1212.0 117.0 L1214.0 117.2 L1216.0 116.6 L1218.0 117.3 L1220.0 117.3 L1222.0 117.1 L1224.0 117.0 L1226.0 117.2 L1228.0 116.9 L1230.0 117.2 L1232.0 117.3 L1234.0 117.2 L1236.0 117.0 L1238.0 116.8 L1240.0 117.0 L1242.0 117.5 L1244.0 117.1 L1246.0 117.0 L1248.0 117.1 L1250.1 117.4 L1252.1 117.5 L1254.1 117.7 L1256.1 117.8 L1258.1 117.9 L1260.1 117.8 L1262.1 117.5 L1264.1 117.3 L1266.1 118.0 L1268.1 117.5 L1270.1 117.8 L1272.1 117.6 L1274.1 118.1 L1276.1 117.6 L1278.1 117.9 L1280.1 117.8 L1282.1 118.3 L1284.1 118.2 L1286.1 118.3 L1288.1 118.1 L1290.1 118.0 L1292.1 118.6 L1294.1 118.6 L1296.1 118.7 L1298.1 118.9 L1300.1 118.7 L1302.1 118.4 L1304.1 118.9 L1306.1 118.7 L1308.1 119.0 L1310.1 119.0 L1312.1 119.2 L1314.1 119.6 L1316.1 119.6 L1318.1 119.3 L1320.1 119.8 L1322.1 119.9 L1324.1 119.9 L1326.1 119.9 L1328.1 120.3 L1330.1 120.1 L1332.1 119.9 L1334.1 120.1 L1336.1 120.6 L1338.1 120.5 L1340.1 120.7 L1342.1 120.8 L1344.1 120.8 L1346.1 120.8 L1348.1 121.0 L1350.1 121.6 L1352.1 121.5 L1354.1 121.8 L1356.1 122.3 L1358.1 122.3 L1360.1 122.6 L1362.1 122.7 L1364.1 123.1 L1366.1 122.6 L1368.1 123.0 L1370.1 123.7 L1372.0 123.5 L1374.0 124.1 L1376.0 123.7 L1378.0 123.8 L1380.0 124.7 L1382.0 124.5 L1384.0 124.9 L1386.0 125.4 L1388.0 125.1 L1390.0 126.0 L1392.0 125.8 L1394.0 125.9 L1396.0 126.2 L1398.0 126.7 L1400.0 126.9" fill="none" stroke="#febd3e" stroke-width="11.8" stroke-linejoin="round" stroke-linecap="round"/>
<path d="M1385.0 119.8 L1387.6 119.9 L1390.2 119.9 L1392.8 120.0 L1395.4 120.2 L1398.0 120.4 L1400.6 120.4 L1403.2 120.6 L1405.8 120.7 L1408.4 120.3 L1411.0 120.5 L1413.6 121.4 L1416.2 120.8 L1418.8 121.6 L1421.4 121.0 L1424.0 120.5 L1426.6 120.1 L1429.2 120.2 L1431.8 120.3 L1434.4 120.4 L1437.0 120.3 L1439.6 120.3 L1442.2 120.1 L1444.8 119.0 L1447.4 119.5 L1450.0 120.9 L1452.6 118.9 L1455.2 120.4 L1457.8 119.8 L1460.4 120.3 L1463.0 119.5 L1465.6 119.6 L1468.2 120.0 L1470.8 120.8 L1473.4 119.2 L1476.0 118.4 L1478.6 118.0 L1481.2 119.5 L1483.8 117.9 L1486.4 117.2 L1489.0 117.9 L1491.6 118.1 L1494.2 117.2 L1496.8 115.8 L1499.4 116.0 L1502.0 115.4 L1504.6 114.5 L1507.2 116.2 L1509.8 114.7 L1512.4 113.9 L1515.0 115.5 L1517.6 115.6 L1520.2 115.2 L1522.8 113.8 L1525.4 113.6 L1528.0 114.3 L1530.6 114.3 L1533.2 114.9 L1535.8 115.0 L1538.4 114.9 L1541.0 113.7 L1543.6 114.2 L1546.2 113.2 L1548.8 114.0 L1551.4 113.1 L1554.0 113.1 L1556.6 113.2 L1559.2 113.6 L1561.8 113.6 L1564.4 114.5 L1567.0 113.1 L1569.6 113.1 L1572.2 114.3 L1574.8 114.4 L1577.4 114.7 L1580.0 114.9 L1582.6 115.0 L1585.2 114.9 L1587.8 115.6 L1590.4 114.3 L1593.0 114.8 L1595.6 116.2 L1598.2 115.2 L1600.8 116.1 L1603.4 115.7 L1606.0 116.3 L1608.6 117.4 L1611.2 117.2 L1613.8 117.0 L1616.4 116.8 L1619.0 118.2 L1621.6 118.1 L1624.2 117.8 L1626.8 119.3 L1629.4 119.6 L1632.0 120.9 L1632.5 120.0 L1632.5 184.7 L1632.0 184.7 L1629.4 183.1 L1626.8 180.8 L1624.2 179.7 L1621.6 178.1 L1619.0 177.9 L1616.4 177.5 L1613.8 177.0 L1611.2 176.7 L1608.6 176.2 L1606.0 175.9 L1603.4 174.5 L1600.8 175.9 L1598.2 174.4 L1595.6 172.8 L1593.0 171.8 L1590.4 172.8 L1587.8 172.5 L1585.2 171.7 L1582.6 170.8 L1580.0 169.3 L1577.4 168.5 L1574.8 168.3 L1572.2 166.7 L1569.6 166.5 L1567.0 167.7 L1564.4 166.9 L1561.8 165.8 L1559.2 165.1 L1556.6 164.7 L1554.0 165.3 L1551.4 165.8 L1548.8 164.2 L1546.2 164.7 L1543.6 164.6 L1541.0 162.9 L1538.4 163.7 L1535.8 164.2 L1533.2 163.5 L1530.6 162.0 L1528.0 162.5 L1525.4 160.8 L1522.8 160.0 L1520.2 160.6 L1517.6 159.6 L1515.0 159.5 L1512.4 158.6 L1509.8 158.2 L1507.2 157.5 L1504.6 157.1 L1502.0 155.5 L1499.4 155.5 L1496.8 153.6 L1494.2 152.5 L1491.6 151.6 L1489.0 151.4 L1486.4 150.6 L1483.8 149.0 L1481.2 148.6 L1478.6 149.0 L1476.0 149.2 L1473.4 147.0 L1470.8 148.0 L1468.2 146.1 L1465.6 144.9 L1463.0 144.0 L1460.4 143.7 L1457.8 142.1 L1455.2 143.9 L1452.6 141.8 L1450.0 141.9 L1447.4 141.9 L1444.8 143.7 L1442.2 142.7 L1439.6 140.7 L1437.0 140.6 L1434.4 139.6 L1431.8 139.0 L1429.2 138.5 L1426.6 138.0 L1424.0 138.0 L1421.4 136.7 L1418.8 136.8 L1416.2 136.0 L1413.6 135.5 L1411.0 135.7 L1408.4 135.1 L1405.8 134.8 L1403.2 133.9 L1400.6 134.0 L1398.0 133.5 L1395.4 133.0 L1392.8 132.9 L1390.2 132.5 L1387.6 132.2 L1385.0 131.8 Z" fill="#febd3e"/>
<path d="M266.5 106.4 L268.7 107.1 L270.5 108.0 L272.0 109.2 L273.4 110.5 L274.5 112.1 L275.5 113.7 L276.4 115.5 L277.2 117.3 L277.9 119.1 L278.7 121.0 L279.4 122.9 L280.1 124.8 L280.8 126.7 L281.5 128.6 L282.1 130.5 L282.8 132.4 L283.4 134.4 L284.0 136.3 L284.6 138.2 L285.2 140.2 L285.8 142.1 L286.4 144.1 L286.9 146.0 L287.5 148.0 L288.0 149.9 L288.6 151.9 L289.1 153.8 L289.7 155.8 L290.2 157.7 L290.7 159.6 L291.2 161.6 L291.7 163.5 L292.3 165.4 L292.8 167.3 L293.3 169.2 L293.8 171.2 L294.3 173.1 L294.8 175.0 L295.3 176.9 L295.9 178.8 L296.4 180.7 L296.9 182.6 L297.4 184.5 L297.9 186.4 L298.5 188.3 L299.0 190.2 L299.5 192.1 L300.1 194.0 L300.6 196.0 L301.2 197.9 L301.7 199.8 L302.3 201.7 L302.9 203.6 L303.4 205.5 L304.0 207.4 L304.6 209.4 L305.2 211.3 L305.8 213.2 L306.4 215.2 L307.1 217.1 L307.7 219.1 L308.4 221.0 L309.0 223.0 L309.7 224.9 L310.4 226.9 L311.1 228.8 L311.9 230.7 L312.7 232.6 L313.5 234.5 L314.4 236.3 L315.3 238.1 L316.2 239.9 L317.2 241.6 L318.2 243.3 L319.3 244.9 L320.4 246.5 L321.7 248.0 L322.9 249.5 L324.2 250.9 L325.6 252.2 L327.1 253.4 L328.7 254.6 L330.3 255.6 L332.0 256.6 L333.8 257.5 L335.7 258.3 L337.6 259.0 L339.6 259.5 L341.6 259.9 L343.7 260.0 L345.7 260.0 L347.6 259.8 L349.5 259.2 L351.2 258.4 L352.9 257.4 L354.4 256.1 L355.9 254.7 L357.3 253.2 L358.6 251.6 L359.9 250.1 L361.2 248.5 L362.4 246.9 L363.6 245.3 L364.7 243.6 L365.8 241.9 L366.9 240.2 L368.0 238.5 L369.0 236.8 L370.0 235.1 L371.0 233.4 L372.0 231.6 L373.0 229.9 L374.0 228.1 L375.0 226.4 L375.9 224.6 L376.9 222.9 L377.9 221.2 L378.9 219.4 L380.0 217.7 L381.0 216.0 L382.1 214.2 L383.2 212.5 L384.3 210.9 L385.4 209.2 L386.5 207.5 L387.7 205.8 L388.9 204.2 L390.0 202.6 L391.2 200.9 L392.5 199.3 L393.7 197.7 L395.0 196.2 L396.2 194.6 L397.5 193.1 L398.8 191.5 L400.2 190.0 L401.5 188.5 L402.9 187.0 L404.2 185.6 L405.6 184.1 L407.0 182.7 L408.4 181.3 L409.9 179.9 L411.3 178.6 L412.8 177.2 L414.3 175.9 L415.8 174.6 L417.3 173.3 L418.8 172.0 L420.4 170.8 L421.9 169.6 L423.5 168.4 L425.1 167.2 L426.7 166.0 L428.3 164.8 L429.9 163.7 L431.6 162.6 L433.2 161.5 L434.9 160.4 L436.5 159.3 L438.2 158.3 L439.9 157.2 L441.6 156.2 L443.3 155.2 L445.0 154.2 L446.8 153.2 L448.5 152.2 L450.2 151.2 L452.0 150.3 L453.8 149.4 L455.5 148.4 L457.3 147.5 L459.1 146.6 L460.9 145.7 L462.7 144.9 L464.5 144.0 L466.3 143.1 L468.1 142.3 L469.9 141.4 L471.8 140.6 L473.6 139.8 L475.4 139.0 L477.3 138.2 L479.1 137.4 L480.9 136.6 L482.8 135.8 L484.6 135.0 L486.5 134.3 L488.3 133.5 L490.2 132.8 L492.1 132.0 L493.9 131.3 L495.8 130.5 L497.6 129.8 L499.5 129.1 L501.4 128.4 L503.3 127.7 L505.1 127.0 L507.0 126.3 L508.9 125.6 L510.8 125.0 L512.7 124.3 L514.6 123.6 L516.5 123.0 L518.4 122.3 L520.3 121.7 L522.2 121.0 L524.1 120.4 L526.0 119.8 L527.9 119.2 L529.8 118.6 L531.7 118.0 L533.6 117.4 L535.5 116.8 L537.4 116.2 L539.4 115.6 L541.3 115.1 L543.2 114.5 L545.1 113.9 L547.1 113.4 L549.0 112.8 L550.9 112.3 L552.9 111.8 L554.8 111.2 L556.7 110.7 L558.7 110.2 L560.6 109.7 L562.6 109.2 L564.5 108.7 L566.4 108.2 L568.4 107.7 L570.3 107.2 L572.3 106.8 L574.2 106.3 L576.2 105.9 L578.2 105.4 L580.1 104.9 L582.1 104.5 L584.0 104.1 L586.0 103.6 L587.9 103.2 L589.9 102.8 L591.9 102.4 L593.8 102.0 L595.8 101.6 L597.8 101.2 L599.7 100.8 L601.7 100.4 L603.7 100.0 L605.7 99.6 L607.6 99.3 L609.6 98.9 L611.6 98.5 L613.6 98.2 L615.5 97.8 L617.5 97.5 L619.5 97.1 L621.5 96.8 L623.5 96.5 L625.5 96.2 L627.4 95.8 L629.4 95.5 L631.4 95.2 L633.4 94.9 L635.4 94.6 L637.4 94.3 L639.3 94.0 L641.3 93.8 L643.3 93.5 L645.3 93.2 L647.3 92.9 L649.3 92.7 L651.3 92.4 L653.3 92.2 L655.3 91.9 L657.3 91.7 L659.3 91.4 L661.2 91.2 L663.2 91.0 L665.2 90.7 L667.2 90.5 L669.2 90.3 L671.2 90.1 L673.2 89.9 L675.2 89.7 L677.2 89.5 L679.2 89.3 L681.2 89.1 L683.2 88.9 L685.2 88.7 L687.2 88.5 L689.2 88.3 L691.2 88.2 L693.2 88.0 L695.2 87.8 L697.1 87.7 L699.1 87.5 L701.1 87.4 L703.1 87.2 L705.1 87.1 L707.1 86.9 L709.1 86.8 L711.1 86.6 L713.1 86.5 L715.1 86.4 L717.1 86.2 L719.1 86.1 L721.1 86.0 L723.1 85.9 L725.1 85.7 L727.1 85.6 L729.1 85.5 L731.1 85.4 L733.1 85.3 L735.1 85.2 L737.1 85.1 L739.1 85.0 L741.1 84.9 L743.1 84.8 L745.1 84.7 L747.1 84.6 L749.1 84.5 L751.1 84.4 L753.1 84.3 L755.1 84.2 L757.1 84.1 L759.1 84.1 L761.1 84.0 L763.1 83.9 L765.1 83.8 L767.1 83.7 L769.1 83.7 L771.1 83.6 L773.1 83.5 L775.1 83.4 L777.1 83.4 L779.1 83.3 L781.1 83.2 L783.1 83.1 L785.1 83.1 L787.1 83.0 L789.1 82.9 L791.1 82.9 L793.1 82.8 L795.1 82.7 L797.1 82.7 L799.1 82.6 L801.1 82.5 L803.1 82.5 L805.1 82.4 L807.1 82.3 L809.1 82.3 L811.1 82.2 L813.1 82.1 L815.1 82.0 L817.1 82.0 L819.1 81.9 L821.1 81.8 L823.1 81.8 L825.1 81.7 L827.1 81.6 L829.1 81.5 L831.1 81.5 L833.1 81.4 L835.1 81.3 L837.1 81.3 L839.1 81.2 L841.1 81.1 L843.1 81.0 L845.1 81.0 L847.2 80.9 L849.2 80.8 L851.2 80.7 L853.2 80.7 L855.2 80.6 L857.2 80.5 L859.2 80.4 L861.2 80.4 L863.2 80.3 L865.2 80.2 L867.2 80.1 L869.2 80.1 L871.2 80.0 L873.2 79.9 L875.2 79.8 L877.2 79.8 L879.2 79.7 L881.2 79.7 L883.2 79.6 L885.2 79.5 L887.2 79.4 L889.2 79.4 L891.2 79.3 L893.2 79.3 L895.2 79.1 L897.2 79.2 L899.2 79.1 L901.2 78.9 L903.2 79.0 L905.3 79.0 L907.3 78.7 L909.3 78.8 L911.3 78.7 L913.3 78.7 L915.3 78.7 L917.3 78.6 L919.3 78.4 L921.3 78.5 L923.3 78.5 L925.3 78.2 L927.3 78.2 L929.3 78.3 L931.3 78.2 L933.3 78.1 L935.3 78.3 L937.3 78.4 L939.3 78.1 L941.3 78.2 L943.3 78.2 L945.3 78.2 L947.3 78.2 L949.3 77.8 L951.3 78.2 L953.4 77.9 L955.4 77.9 L957.4 78.0 L959.4 78.1 L961.4 78.2 L963.4 77.9 L965.4 78.3 L967.4 78.1 L969.4 78.2 L971.4 78.0 L973.4 77.8 L975.4 77.8 L977.4 78.2 L979.4 78.1 L981.4 78.1 L983.4 78.0 L985.4 78.0 L987.4 78.2 L989.4 78.1 L991.4 78.6 L993.4 78.1 L995.4 78.7 L997.4 78.6 L999.4 78.3 L1001.4 78.6 L1003.4 78.5 L1005.5 78.5 L1007.5 78.8 L1009.5 78.8 L1011.5 78.3 L1013.5 78.9 L1015.5 78.2 L1017.5 78.2 L1019.5 78.7 L1021.5 78.5 L1023.5 78.6 L1025.5 78.7 L1027.5 78.7 L1029.5 79.1 L1031.5 79.2 L1033.5 78.6 L1035.5 78.6 L1037.5 78.9 L1039.5 78.5 L1041.5 78.7 L1043.5 79.0 L1045.5 78.2 L1047.5 79.0 L1049.5 79.0 L1051.5 78.6 L1053.5 78.4 L1055.5 78.7 L1057.5 78.3 L1059.5 78.9 L1061.5 78.6 L1063.5 78.2 L1065.5 78.7 L1067.5 78.4 L1069.5 77.8 L1071.5 78.0 L1073.5 78.0 L1075.5 78.5 L1077.5 77.7 L1079.5 77.7 L1081.5 78.4 L1083.5 77.7 L1085.5 78.2 L1087.5 77.3 L1089.5 77.8 L1091.5 77.6 L1093.4 78.7 L1095.4 78.5 L1097.4 78.4 L1099.4 78.5 L1101.3 79.3 L1103.3 79.3 L1105.3 80.3 L1107.2 81.0 L1109.2 80.9 L1111.2 81.1 L1113.1 81.8 L1115.1 81.9 L1117.0 83.2 L1119.0 82.4 L1121.0 83.6 L1123.0 83.2 L1124.9 83.8 L1126.9 84.0 L1128.9 83.1 L1130.9 83.9 L1132.9 84.1 L1134.9 83.5 L1136.9 83.5 L1138.9 82.8 L1140.9 82.4 L1142.9 83.0 L1144.9 82.9 L1146.9 81.8 L1148.9 81.4 L1150.9 81.4 L1152.9 81.5 L1154.9 80.9 L1156.9 81.5 L1158.9 81.0 L1160.9 80.9 L1162.9 80.2 L1164.9 80.2 L1166.9 80.3 L1168.9 78.8 L1170.9 79.4 L1172.9 78.7 L1174.9 79.4 L1176.9 78.5 L1178.9 79.1 L1180.9 78.4 L1182.9 78.7 L1184.9 78.7 L1186.9 78.9 L1188.9 78.8 L1190.9 78.1 L1192.9 78.4 L1194.9 77.7 L1196.9 77.5 L1198.9 78.4 L1200.9 78.6 L1202.9 78.4 L1204.9 78.1 L1206.9 78.2 L1208.9 78.4 L1210.9 78.2 L1212.9 78.0 L1214.9 78.7 L1216.9 78.0 L1218.9 78.8 L1220.9 78.8 L1222.9 78.8 L1224.9 78.9 L1226.9 79.2 L1228.9 79.3 L1230.9 78.7 L1232.9 78.6 L1234.9 79.2 L1236.9 79.6 L1238.9 79.2 L1240.9 78.5 L1242.9 78.6 L1244.9 79.3 L1246.9 79.8 L1248.9 80.1 L1250.9 79.5 L1252.9 79.8 L1254.9 79.9 L1256.9 79.4 L1258.8 79.4 L1260.8 80.2 L1262.8 80.3 L1264.8 80.9 L1266.8 80.0 L1268.8 81.0 L1270.8 80.3 L1272.8 80.8 L1274.8 81.1 L1276.8 80.4 L1278.8 81.6 L1280.8 81.7 L1282.8 81.8 L1284.8 80.5 L1286.8 81.5 L1288.8 81.6 L1290.8 82.0 L1292.8 81.1 L1294.8 81.0 L1296.8 82.0 L1298.8 81.3 L1300.8 81.1 L1302.9 81.2 L1304.9 82.0 L1306.9 81.9 L1308.9 82.2 L1310.9 82.3 L1312.9 81.3 L1314.9 82.6 L1316.9 82.5 L1318.9 82.6 L1320.9 82.4 L1322.9 81.9 L1324.9 81.7 L1326.9 82.7 L1328.9 82.0 L1330.9 82.1 L1332.9 82.4 L1334.9 82.4 L1336.9 82.4 L1338.9 82.3 L1340.9 82.1 L1342.9 82.4 L1344.9 81.9 L1346.9 81.7 L1348.9 82.6 L1350.9 82.4 L1352.9 82.2 L1354.9 81.4 L1356.9 81.2 L1358.9 82.4 L1360.9 82.4 L1362.9 81.4 L1364.9 81.8 L1367.0 80.9 L1369.0 81.3 L1371.0 81.7 L1373.0 81.2 L1375.0 81.7 L1377.0 81.8 L1379.0 80.6 L1381.0 81.3 L1383.0 80.8 L1385.0 80.4 L1387.0 80.5 L1389.0 80.6 L1391.0 81.1 L1393.0 80.8 L1395.0 79.6" fill="none" stroke="#00cc00" stroke-width="13" stroke-linejoin="round" stroke-linecap="round"/>
<path d="M1380.0 74.8 L1382.6 74.7 L1385.2 74.5 L1387.8 74.4 L1390.4 74.2 L1393.0 74.3 L1395.6 74.0 L1398.2 73.9 L1400.8 73.4 L1403.4 73.9 L1406.0 73.0 L1408.6 72.7 L1411.2 73.3 L1413.8 73.6 L1416.4 72.5 L1419.0 72.3 L1421.6 71.7 L1424.2 72.4 L1426.8 72.5 L1429.4 70.5 L1432.0 71.3 L1434.6 71.0 L1437.2 69.4 L1439.8 70.3 L1442.4 69.2 L1445.0 68.6 L1447.6 70.8 L1450.2 67.6 L1452.8 68.0 L1455.4 68.5 L1458.0 67.5 L1460.6 65.8 L1463.2 67.7 L1465.8 64.9 L1468.4 64.6 L1471.0 65.4 L1473.6 64.8 L1476.2 63.9 L1478.8 61.5 L1481.4 61.8 L1484.0 61.4 L1486.6 58.6 L1489.2 60.4 L1491.8 56.9 L1494.4 58.0 L1497.0 55.9 L1499.6 55.2 L1502.2 54.2 L1504.8 56.1 L1507.4 52.8 L1510.0 54.6 L1512.6 51.5 L1515.2 51.4 L1517.8 50.3 L1520.4 52.1 L1523.0 48.5 L1525.6 50.3 L1528.2 47.8 L1530.8 49.2 L1533.4 47.8 L1536.0 45.6 L1538.6 45.8 L1541.2 44.2 L1543.8 44.4 L1546.4 42.6 L1549.0 44.1 L1551.6 43.2 L1554.2 41.5 L1556.8 40.0 L1559.4 42.4 L1562.0 39.4 L1564.6 39.7 L1567.2 38.5 L1569.8 39.3 L1572.4 39.1 L1575.0 39.2 L1577.6 38.5 L1580.2 38.1 L1582.8 39.8 L1585.4 38.1 L1588.0 38.1 L1590.6 38.6 L1593.2 37.8 L1595.8 39.2 L1598.4 37.0 L1601.0 37.8 L1603.6 38.3 L1606.2 37.9 L1608.8 40.0 L1611.4 38.6 L1614.0 39.0 L1616.6 39.3 L1619.2 40.7 L1621.8 38.9 L1624.4 41.0 L1627.0 42.1 L1629.6 40.7 L1632.2 49.1 L1633.0 53.3 L1633.0 134.8 L1632.2 136.2 L1629.6 132.9 L1627.0 133.9 L1624.4 134.2 L1621.8 132.8 L1619.2 130.9 L1616.6 131.1 L1614.0 129.4 L1611.4 128.3 L1608.8 128.3 L1606.2 127.0 L1603.6 127.2 L1601.0 126.1 L1598.4 127.0 L1595.8 124.0 L1593.2 124.2 L1590.6 125.6 L1588.0 122.5 L1585.4 123.0 L1582.8 120.5 L1580.2 122.2 L1577.6 120.9 L1575.0 118.6 L1572.4 118.4 L1569.8 120.7 L1567.2 120.0 L1564.6 119.3 L1562.0 117.4 L1559.4 118.0 L1556.8 117.9 L1554.2 117.5 L1551.6 116.3 L1549.0 114.7 L1546.4 115.2 L1543.8 113.3 L1541.2 111.6 L1538.6 111.3 L1536.0 111.3 L1533.4 110.4 L1530.8 107.6 L1528.2 107.4 L1525.6 107.6 L1523.0 108.2 L1520.4 105.3 L1517.8 104.9 L1515.2 105.6 L1512.6 104.9 L1510.0 103.8 L1507.4 102.6 L1504.8 100.6 L1502.2 102.4 L1499.6 99.5 L1497.0 99.7 L1494.4 98.9 L1491.8 99.2 L1489.2 96.8 L1486.6 95.2 L1484.0 94.5 L1481.4 96.3 L1478.8 95.8 L1476.2 95.1 L1473.6 93.2 L1471.0 93.1 L1468.4 94.2 L1465.8 92.3 L1463.2 92.4 L1460.6 91.7 L1458.0 90.7 L1455.4 90.5 L1452.8 89.5 L1450.2 91.6 L1447.6 90.9 L1445.0 88.9 L1442.4 88.9 L1439.8 89.2 L1437.2 89.1 L1434.6 87.8 L1432.0 87.6 L1429.4 88.5 L1426.8 89.2 L1424.2 88.6 L1421.6 86.3 L1419.0 86.6 L1416.4 86.4 L1413.8 87.5 L1411.2 87.4 L1408.6 87.4 L1406.0 87.8 L1403.4 87.3 L1400.8 87.7 L1398.2 87.1 L1395.6 87.2 L1393.0 87.4 L1390.4 87.4 L1387.8 87.2 L1385.2 87.1 L1382.6 87.2 L1380.0 87.2 Z" fill="#00cc00"/>
</g>
<rect x="250.9" y="24.45" width="1391.1" height="1051.15" fill="none" stroke="#000" stroke-width="6.2"/>
<rect x="245" y="21.35" width="3" height="6.2" fill="#000"/>
<rect x="245" y="1072.5" width="3" height="6.2" fill="#000"/>
<g id="ticklabels">
<text x="184.67" y="1087.00" font-size="77">0</text>
<text x="141.85" y="882.80" font-size="77">20</text>
<text x="141.85" y="678.60" font-size="77">40</text>
<text x="141.85" y="474.40" font-size="77">60</text>
<text x="141.85" y="270.20" font-size="77">80</text>
<text x="99.02" y="66.00" font-size="77"><tspan dx="2.62">1</tspan><tspan dx="-2.62">0</tspan>0</text>
<text x="325.76" y="1171.00" font-size="77">400</text>
<text x="679.10" y="1171.00" font-size="77">600</text>
<text x="1032.44" y="1171.00" font-size="77">800</text>
<text x="1364.37" y="1171.00" font-size="77"><tspan dx="2.62">1</tspan><tspan dx="-2.62">0</tspan>00</text>
</g>
<text x="659.6" y="1240.5" font-size="76">Wavelength (nm)</text>
<text transform="translate(77.5,857.6) rotate(-90)" font-size="76">Transmittance (%)</text>
<g id="legend">
<rect x="813.2" y="509.9" width="479.4" height="385.7" fill="#fff" stroke="#000" stroke-width="6.2"/>
<text x="827" y="582.3" font-size="62">DI water content</text>
<line x1="837.5" y1="633.8" x2="955" y2="633.8" stroke="#000000" stroke-width="12"/>
<text x="981.00" y="652.60" font-size="62"><tspan dx="2.11">1</tspan><tspan dx="-2.11">0</tspan>%</text>
<line x1="837.5" y1="704.8" x2="955" y2="704.8" stroke="#fa0000" stroke-width="12"/>
<text x="981.00" y="723.60" font-size="62">20%</text>
<line x1="837.5" y1="775.8" x2="955" y2="775.8" stroke="#febd3e" stroke-width="12"/>
<text x="981.00" y="794.60" font-size="62">30%</text>
<line x1="837.5" y1="846.8" x2="955" y2="846.8" stroke="#00cc00" stroke-width="12"/>
<text x="981.00" y="865.60" font-size="62">40%</text>
</g>
<g id="glyph-tweaks" fill="#fff">
<rect x="105.40" y="59.98" width="15.30" height="6.77"/>
<rect x="128.10" y="59.98" width="14.81" height="6.77"/>
<rect x="1370.74" y="1164.98" width="15.30" height="6.77"/>
<rect x="1393.45" y="1164.98" width="14.81" height="6.77"/>
<rect x="986.14" y="647.76" width="12.26" height="5.45"/>
<rect x="1004.48" y="647.76" width="11.93" height="5.45"/>
</g>
</svg>
</body></html>
